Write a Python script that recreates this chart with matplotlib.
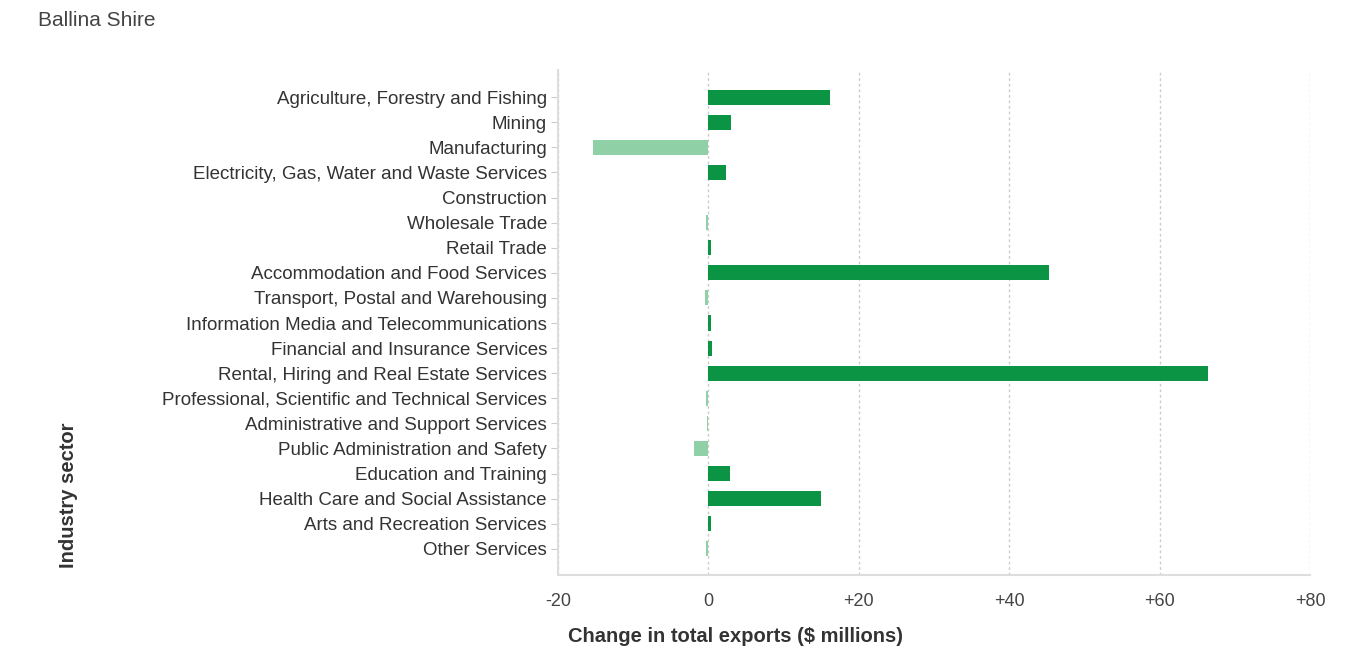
import matplotlib
matplotlib.use('Agg')
import matplotlib.pyplot as plt
from matplotlib.ticker import FuncFormatter

plt.rcParams['font.family'] = ['Liberation Sans', 'DejaVu Sans']

# 산업별 수출 변화 (백만 달러)
sectors = [
    'Agriculture, Forestry and Fishing',
    'Mining',
    'Manufacturing',
    'Electricity, Gas, Water and Waste Services',
    'Construction',
    'Wholesale Trade',
    'Retail Trade',
    'Accommodation and Food Services',
    'Transport, Postal and Warehousing',
    'Information Media and Telecommunications',
    'Financial and Insurance Services',
    'Rental, Hiring and Real Estate Services',
    'Professional, Scientific and Technical Services',
    'Administrative and Support Services',
    'Public Administration and Safety',
    'Education and Training',
    'Health Care and Social Assistance',
    'Arts and Recreation Services',
    'Other Services',
]
change = [16.2, 3.0, -15.3, 2.4, 0.0, -0.3, 0.4, 45.3, -0.4, 0.3,
          0.5, 66.5, -0.3, -0.2, -1.9, 2.9, 15.0, 0.4, -0.3]
xticks = [-20, 0, 20, 40, 60, 80]

pos_color = '#0b9444'
neg_color = '#8fd0a6'

fig = plt.figure(figsize=(13.64, 6.54), dpi=100)
ax = fig.add_axes([558 / 1364, 1 - 575 / 654, (1310 - 558) / 1364, (575 - 70) / 654])

y = list(range(len(sectors)))
colors = [pos_color if v >= 0 else neg_color for v in change]
ax.barh(y, change, height=0.6, color=colors, zorder=3)

ax.set_xlim(-20, 80)
ax.set_ylim(len(sectors) - 1 + 1.04, -1.08)
ax.set_yticks(y)
ax.set_yticklabels(sectors, fontsize=13.5, color='#333333')
ax.set_xticks(xticks)
ax.xaxis.set_major_formatter(FuncFormatter(lambda v, p: f'+{v:.0f}' if v > 0 else f'{v:.0f}'))
ax.tick_params(axis='x', length=0, labelsize=13, labelcolor='#444444', pad=13)
ax.tick_params(axis='y', length=5, color='#cccccc', pad=3)

ax.grid(axis='x', color='#cccccc', linestyle=(0, (2, 2)), linewidth=1, zorder=0)
for s in ['top', 'right']:
    ax.spines[s].set_visible(False)
for s in ['left', 'bottom']:
    ax.spines[s].set_color('#dddddd')
    ax.spines[s].set_linewidth(1.5)

fig.text(38 / 1364, 1 - 20 / 654, 'Ballina Shire', fontsize=15, color='#444444', va='center', ha='left')
fig.text(735 / 1364, 1 - 637 / 654, 'Change in total exports ($ millions)', fontsize=14.5,
         fontweight='bold', color='#333333', ha='center', va='center')
fig.text(68 / 1364, 1 - 495 / 654, 'Industry sector', fontsize=14.5, fontweight='bold',
         color='#333333', rotation=90, ha='center', va='center')

fig.savefig('out.png', dpi=100)
